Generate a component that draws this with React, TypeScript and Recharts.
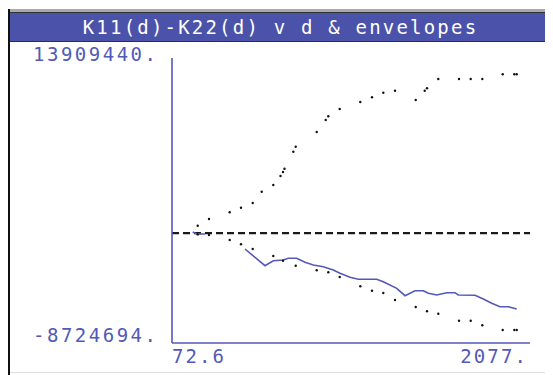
import React from 'react';
import { ComposedChart, Line, XAxis, YAxis, ReferenceLine } from 'recharts';

const TITLE = 'K11(d)-K22(d) v d & envelopes';
const X_TICKS = [72.6, 2077];
const Y_TICKS = [-8724694, 13909440];
const X_LABELS = ['72.6', '2077.'];
const Y_LABELS = ['-8724694.', '13909440.'];

// envelope points (d, upper, lower)
const envD = [216.5, 279.8, 395.7, 458.9, 524.4, 574.8, 639.8, 680.1, 694.1, 702.5, 751.8, 765.2, 882.8, 933.2, 947.7, 1011.6, 1126.9, 1192.4, 1255.7, 1321.2, 1437.1, 1487.5, 1500.3, 1563.6, 1679.5, 1745.0, 1810.0, 1924.2, 1989.2, 2002.6];
const envUpper = [591000, 1123000, 1655000, 2020000, 2394000, 3291000, 3823000, 4538000, 4856000, 5118000, 6468000, 6865000, 8033000, 8986000, 9279000, 9859000, 10415000, 10788000, 11154000, 11313000, 10574000, 11313000, 11503000, 12242000, 12242000, 12242000, 12242000, 12615000, 12615000, 12615000];
const envLower = [-100000, -148000, -545000, -886000, -1260000, null, -1816000, null, -2189000, null, null, -2586000, -2951000, null, -3110000, -3483000, -4222000, -4571000, -4754000, -5310000, -5866000, null, -6207000, -6398000, -6954000, -6954000, -7319000, -7692000, -7692000, -7692000];

// K11(d)-K22(d)
const statD = [188.5, 212.6, 257.4, 370.0, 481.3, 593.3, 639.8, 695.8, 723.8, 770.8, 817.3, 863.7, 919.7, 975.7, 1013.2, 1069.2, 1115.7, 1218.7, 1255.7, 1330.7, 1377.2, 1433.2, 1479.6, 1507.6, 1554.7, 1610.7, 1657.1, 1675.6, 1769.1, 1815.6, 1862.6, 1909.1, 1955.6, 2002.6];
const statV = [90000, -68000, -68000, null, -1260000, -2586000, -2189000, -2133000, -1998000, -1998000, -2316000, -2531000, -2665000, -2927000, -3190000, -3507000, -3666000, -3666000, -3856000, -4381000, -4968000, -4571000, -4571000, -4778000, -4913000, -4730000, -4730000, -4913000, -4937000, -5230000, -5572000, -5842000, -5842000, -6025000];

const envData = envD.map((x, i) => ({ x, upper: envUpper[i], lower: envLower[i] }));
const statData = statD.map((x, i) => ({ x, v: statV[i] }));

const BLUE = '#5359b8';
const FONT = '"DejaVu Sans Mono", monospace';

const YTick = (props: any) => {
  const { y, index } = props;
  return (
    <text x={150.5} y={y + (index === 0 ? -1 : 3)} textAnchor="end" fill={BLUE}
      fontFamily={FONT} fontSize={19} letterSpacing={2.5}>
      {Y_LABELS[index]}
    </text>
  );
};

const XTick = (props: any) => {
  const { x, index } = props;
  return (
    <text x={index === 0 ? x : x - 2} y={355} textAnchor={index === 0 ? 'start' : 'end'} fill={BLUE}
      fontFamily={FONT} fontSize={19} letterSpacing={2.1}>
      {X_LABELS[index]}
    </text>
  );
};

export default function App() {
  return (
    <div style={{ position: 'relative', width: 545, height: 367, background: '#fff' }}>
      <ComposedChart width={545} height={367} margin={{ top: 50, right: 23, bottom: 0, left: 0 }}>
        <XAxis type="number" dataKey="x" domain={[X_TICKS[0], X_TICKS[1]]} ticks={X_TICKS}
          allowDataOverflow height={32} tickLine={false} tick={<XTick />}
          axisLine={{ stroke: BLUE, strokeWidth: 1.6 }} />
        <YAxis type="number" domain={[Y_TICKS[0], Y_TICKS[1]]} ticks={Y_TICKS}
          allowDataOverflow width={164} tickLine={false} tick={<YTick />}
          axisLine={{ stroke: BLUE, strokeWidth: 1.6 }} />
        <ReferenceLine y={0} stroke="#1a1a1a" strokeWidth={2.2} strokeDasharray="7 4" />
        <Line data={envData} dataKey="upper" stroke="none" isAnimationActive={false}
          dot={{ r: 1.2, fill: '#111', stroke: 'none' }} />
        <Line data={envData} dataKey="lower" stroke="none" isAnimationActive={false}
          dot={{ r: 1.2, fill: '#111', stroke: 'none' }} />
        <Line data={statData} dataKey="v" stroke={BLUE} strokeWidth={1.6} dot={false}
          type="linear" isAnimationActive={false} />
      </ComposedChart>
      <div style={{ position: 'absolute', left: 0, top: 1, width: 545, height: 3, background: '#a9a9a9' }} />
      <div style={{ position: 'absolute', left: 0, top: 4, width: 545, height: 1, background: '#333' }} />
      <div style={{
        position: 'absolute', left: 0, top: 5, width: 545, height: 28, background: '#4b52a9',
        color: '#fff', fontFamily: FONT, fontSize: 19, letterSpacing: 2.2,
        display: 'flex', alignItems: 'center', justifyContent: 'center', whiteSpace: 'pre',
      }}>
        {TITLE}
      </div>
      <div style={{ position: 'absolute', left: 0, top: 33, width: 545, height: 1, background: '#2a2d5a' }} />
      <div style={{ position: 'absolute', left: 0, top: 1, width: 2, height: 366, background: '#111' }} />
      <div style={{ position: 'absolute', left: 2, top: 364, width: 543, height: 1, background: '#ddd' }} />
    </div>
  );
}
